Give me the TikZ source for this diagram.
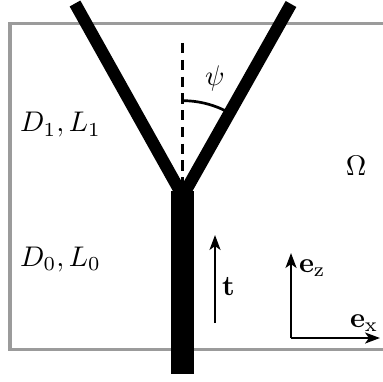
\documentclass[tikz,border=0pt]{standalone}
\usetikzlibrary{arrows.meta}
\definecolor{boxgray}{RGB}{155,155,155}
\begin{document}
\begin{tikzpicture}[x=0.352pt,y=-0.352pt,
  lbl/.style={inner sep=0pt,outer sep=0pt},
  vec/.style={line width=0.95pt,-{Stealth[length=5.2pt,width=3.8pt,inset=1.3pt]}}]
\useasboundingbox (0,0) rectangle (383,381);
% domain box
\draw[boxgray,line width=1.1pt] (420,23.5) -- (10,23.5) -- (10,349.5) -- (420,349.5);
% junction and geometry coordinates
\coordinate (J) at (182.7,196);
\coordinate (TL) at (75,3.5);
\coordinate (TR) at (291,4);
\coordinate (SB) at (182.7,374);
\coordinate (ST) at (182.7,191.5);
\coordinate (DT) at (182.7,43);
% dashed vertical
\draw[line width=0.95pt,dash pattern=on 3.6pt off 2.3pt] (DT) -- (J);
% angle arc
\draw[line width=0.95pt] (J) ++(-90:95.3) arc[start angle=-90,end angle=-60.7,radius=95.3];
% stem
\draw[line width=8.3pt] (ST) -- (SB);
% branches
\draw[line width=4.3pt,line join=miter] (TL) -- (J) -- (TR);
% labels
\node[lbl,anchor=base] (psi) at (215,86) {$\psi$};
\node[lbl,anchor=base west] (d1) at (20,132) {$D_1, L_1$};
\node[lbl,anchor=base west] (d0) at (20,266) {$D_0, L_0$};
\node[lbl,anchor=base] (om) at (356,175) {$\Omega$};
% tangent vector
\coordinate (tb) at (215,323);
\coordinate (tt) at (215,235);
\draw[vec] (tb) -- (tt);
\node[lbl,anchor=base west] (tl) at (222,295) {$\mathbf{t}$};
% axes
\coordinate (O) at (291,338);
\coordinate (EZ) at (291,253);
\coordinate (EX) at (380,338);
\draw[vec] (O) -- (EZ);
\draw[vec] (O) -- (EX);
\node[lbl,anchor=base west] (ezl) at (299,272) {$\mathbf{e}_{\mathrm{z}}$};
\node[lbl,anchor=base west] (exl) at (350,327) {$\mathbf{e}_{\mathrm{x}}$};
\end{tikzpicture}
\end{document}
